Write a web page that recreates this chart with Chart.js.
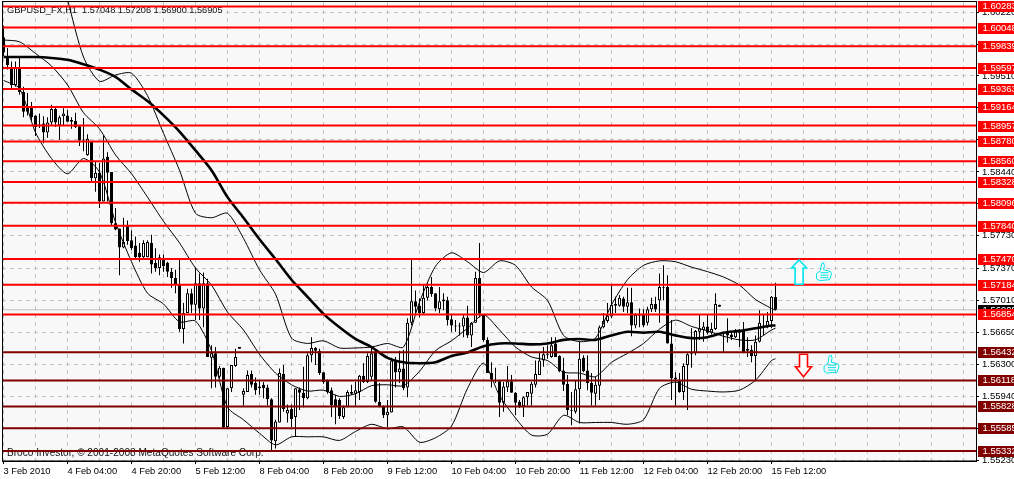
<!DOCTYPE html>
<html>
<head>
<meta charset="utf-8">
<title>GBPUSD H1</title>
<script src="https://cdn.jsdelivr.net/npm/chart.js@4/dist/chart.umd.min.js"></script>
<style>
html, body { margin: 0; padding: 0; background: #fff; overflow: hidden; }
canvas { display: block; }
</style>
</head>
<body>
<canvas id="gbpChart" width="1014" height="479"></canvas>
<script>
const opens = [1.5994,1.5972,1.5960,1.5941,1.5960,1.5933,1.5916,1.5916,1.5907,1.5897,1.5898,1.5888,1.5899,1.5914,1.5896,1.5906,1.5907,1.5902,1.5901,1.5895,1.5880,1.5863,1.5878,1.5837,1.5843,1.5811,1.5861,1.5844,1.5787,1.5781,1.5760,1.5785,1.5768,1.5762,1.5754,1.5749,1.5749,1.5765,1.5743,1.5737,1.5746,1.5743,1.5733,1.5726,1.5718,1.5669,1.5687,1.5709,1.5696,1.5720,1.5692,1.5720,1.5637,1.5642,1.5616,1.5626,1.5560,1.5603,1.5628,1.5647,1.5596,1.5599,1.5619,1.5609,1.5605,1.5607,1.5604,1.5591,1.5544,1.5565,1.5619,1.5575,1.5580,1.5571,1.5602,1.5598,1.5592,1.5640,1.5648,1.5645,1.5621,1.5612,1.5601,1.5591,1.5590,1.5571,1.5582,1.5599,1.5597,1.5599,1.5617,1.5610,1.5616,1.5643,1.5588,1.5583,1.5573,1.5576,1.5634,1.5621,1.5625,1.5604,1.5676,1.5700,1.5695,1.5687,1.5704,1.5716,1.5709,1.5691,1.5700,1.5701,1.5680,1.5673,1.5672,1.5672,1.5682,1.5662,1.5676,1.5726,1.5685,1.5657,1.5620,1.5611,1.5611,1.5587,1.5604,1.5611,1.5598,1.5588,1.5583,1.5593,1.5597,1.5607,1.5618,1.5634,1.5640,1.5638,1.5653,1.5639,1.5623,1.5608,1.5579,1.5577,1.5602,1.5637,1.5623,1.5609,1.5597,1.5606,1.5671,1.5678,1.5683,1.5697,1.5695,1.5703,1.5694,1.5699,1.5673,1.5684,1.5686,1.5676,1.5691,1.5697,1.5701,1.5715,1.5716,1.5653,1.5613,1.5612,1.5599,1.5629,1.5641,1.5642,1.5666,1.5668,1.5672,1.5665,1.5669,1.5694,1.5666,1.5666,1.5663,1.5660,1.5665,1.5668,1.5647,1.5646,1.5639,1.5655,1.5673,1.5672,1.5678,1.57048];
const highs = [1.6007,1.5982,1.5967,1.5967,1.5971,1.5939,1.5932,1.5922,1.5907,1.5909,1.5906,1.5905,1.5919,1.5916,1.5907,1.5915,1.5913,1.5905,1.5910,1.5896,1.5904,1.5886,1.5878,1.5855,1.5854,1.5885,1.5866,1.5844,1.5804,1.5781,1.5793,1.5790,1.5779,1.5772,1.5765,1.5768,1.5768,1.5774,1.5759,1.5752,1.5752,1.5744,1.5737,1.5735,1.5747,1.5698,1.5714,1.5714,1.5737,1.5731,1.5732,1.5725,1.5651,1.5649,1.5628,1.5626,1.5603,1.5629,1.5647,1.5649,1.5603,1.5623,1.5623,1.5615,1.5612,1.5610,1.5607,1.5592,1.5568,1.5625,1.5629,1.5585,1.5585,1.5603,1.5604,1.5627,1.5642,1.5660,1.5649,1.5647,1.5621,1.5613,1.5604,1.5596,1.5592,1.5584,1.5601,1.5607,1.5610,1.5618,1.5631,1.5642,1.5648,1.5646,1.5609,1.5584,1.5590,1.5637,1.5638,1.5645,1.5646,1.5681,1.5746,1.5712,1.5703,1.5718,1.5720,1.5727,1.5709,1.5716,1.5709,1.5705,1.5686,1.5679,1.5676,1.5685,1.5695,1.5677,1.5733,1.5765,1.5685,1.5660,1.5632,1.5626,1.5612,1.5610,1.5628,1.5618,1.5599,1.5590,1.5594,1.5599,1.5610,1.5634,1.5643,1.5649,1.5651,1.5660,1.5660,1.5640,1.5637,1.5618,1.5599,1.5612,1.5655,1.5640,1.5640,1.5620,1.5616,1.5673,1.5687,1.5698,1.5718,1.5705,1.5707,1.5705,1.5715,1.5715,1.5687,1.5692,1.5691,1.5694,1.5704,1.5705,1.5731,1.5740,1.5729,1.5679,1.5621,1.5620,1.5631,1.5642,1.5670,1.5668,1.5685,1.5677,1.5685,1.5676,1.5709,1.5696,1.5666,1.5681,1.5666,1.5669,1.5669,1.5677,1.5660,1.5651,1.5662,1.5690,1.5685,1.5688,1.5706,1.57206];
const lows = [1.5973,1.5958,1.5937,1.5939,1.5930,1.5905,1.5907,1.5900,1.5884,1.5893,1.5876,1.5882,1.5896,1.5894,1.5880,1.5896,1.5900,1.5892,1.5893,1.5873,1.5867,1.5862,1.5833,1.5822,1.5804,1.5811,1.5811,1.5785,1.5779,1.5729,1.5759,1.5763,1.5757,1.5746,1.5744,1.5748,1.5749,1.5731,1.5733,1.5729,1.5733,1.5727,1.5715,1.5709,1.5666,1.5653,1.5687,1.5687,1.5679,1.5679,1.5671,1.5638,1.5603,1.5604,1.5614,1.5558,1.5559,1.5599,1.5627,1.5647,1.5584,1.5599,1.5604,1.5596,1.5596,1.5592,1.5584,1.5534,1.5536,1.5565,1.5577,1.5565,1.5560,1.5549,1.5579,1.5582,1.5591,1.5632,1.5629,1.5618,1.5608,1.5597,1.5571,1.5563,1.5569,1.5569,1.5582,1.5596,1.5584,1.5590,1.5609,1.5609,1.5612,1.5587,1.5582,1.5570,1.5560,1.5576,1.5604,1.5609,1.5601,1.5593,1.5673,1.5687,1.5682,1.5686,1.5701,1.5705,1.5689,1.5687,1.5690,1.5673,1.5666,1.5666,1.5662,1.5660,1.5659,1.5649,1.5676,1.5682,1.5655,1.5620,1.5604,1.5609,1.5571,1.5577,1.5599,1.5598,1.5573,1.5581,1.5571,1.5584,1.5584,1.5604,1.5618,1.5627,1.5636,1.5637,1.5638,1.5621,1.5600,1.5573,1.5562,1.5575,1.5564,1.5621,1.5601,1.5584,1.5584,1.5590,1.5670,1.5676,1.5681,1.5687,1.5694,1.5688,1.5687,1.5661,1.5670,1.5671,1.5671,1.5673,1.5688,1.5688,1.5676,1.5701,1.5653,1.5590,1.5584,1.5598,1.5590,1.5579,1.5626,1.5640,1.5657,1.5655,1.5663,1.5663,1.5668,1.5694,1.5643,1.5654,1.5657,1.5659,1.5649,1.5642,1.5638,1.5632,1.5611,1.5654,1.5662,1.5670,1.5670,1.56900];
const closes = [1.5977,1.5963,1.5941,1.5961,1.5933,1.5911,1.5911,1.5905,1.5894,1.5895,1.5888,1.5899,1.5914,1.5899,1.5905,1.5909,1.5900,1.5900,1.5894,1.5879,1.5879,1.5881,1.5837,1.5843,1.5811,1.5859,1.5843,1.5787,1.5780,1.5760,1.5766,1.5767,1.5759,1.5749,1.5749,1.5765,1.5766,1.5741,1.5737,1.5749,1.5739,1.5733,1.5726,1.5718,1.5669,1.5687,1.5709,1.5696,1.5720,1.5692,1.5720,1.5638,1.5642,1.5616,1.5626,1.5560,1.5603,1.5629,1.5638,1.5649,1.5600,1.5618,1.5607,1.5601,1.5603,1.5603,1.5591,1.5545,1.5566,1.5620,1.5580,1.5579,1.5569,1.5603,1.5598,1.5592,1.5640,1.5648,1.5645,1.5620,1.5610,1.5599,1.5584,1.5583,1.5572,1.5582,1.5599,1.5597,1.5601,1.5617,1.5610,1.5639,1.5642,1.5588,1.5583,1.5573,1.5577,1.5634,1.5621,1.5625,1.5603,1.5676,1.5700,1.5694,1.5687,1.5704,1.5716,1.5708,1.5692,1.5700,1.5702,1.5679,1.5673,1.5672,1.5673,1.5682,1.5662,1.5676,1.5726,1.5686,1.5657,1.5620,1.5613,1.5612,1.5587,1.5605,1.5611,1.5598,1.5587,1.5583,1.5593,1.5599,1.5608,1.5619,1.5634,1.5641,1.5641,1.5651,1.5638,1.5622,1.5607,1.5579,1.5578,1.5602,1.5636,1.5622,1.5609,1.5598,1.5607,1.5671,1.5678,1.5684,1.5696,1.5695,1.5704,1.5694,1.5699,1.5673,1.5685,1.5686,1.5673,1.5691,1.5697,1.5691,1.5716,1.5716,1.5653,1.5614,1.5615,1.5599,1.5628,1.5641,1.5642,1.5667,1.5670,1.5672,1.5665,1.5669,1.5697,1.5696,1.5665,1.5662,1.5660,1.5666,1.5667,1.5643,1.5645,1.5639,1.5655,1.5676,1.5671,1.5678,1.5705,1.56905];

// smoothed lines, read every 4th bar (last one is the final bar)
const lineBars = [0,4,8,12,16,20,24,28,32,36,40,44,48,52,56,60,64,68,72,76,80,84,88,92,96,100,104,108,112,116,120,124,128,132,136,140,144,148,152,156,160,164,168,172,176,180,184,188,192,193];
const maLine = [1.5972,1.5972,1.5972,1.5971,1.5969,1.5964,1.5958,1.5950,1.5936,1.5923,1.5907,1.5889,1.5868,1.5846,1.5816,1.5793,1.5769,1.5747,1.5724,1.5705,1.5686,1.5671,1.5658,1.5649,1.5637,1.5632,1.5631,1.5632,1.5639,1.5643,1.5650,1.5653,1.5653,1.5652,1.5653,1.5657,1.5658,1.5657,1.5662,1.5666,1.5665,1.5666,1.5662,1.5659,1.5660,1.5665,1.5667,1.5670,1.5673,1.5673];
const bandUpper = [null,null,null,null,1.6036,1.5972,1.5945,1.5952,1.5954,1.5929,1.5887,1.5846,1.5798,1.5793,1.5798,1.5770,1.5735,1.5708,1.5659,1.5653,1.5656,1.5648,1.5648,1.5649,1.5653,1.5649,1.5699,1.5739,1.5754,1.5744,1.5732,1.5745,1.5740,1.5716,1.5701,1.5662,1.5655,1.5659,1.5696,1.5724,1.5740,1.5745,1.5744,1.5738,1.5733,1.5727,1.5718,1.5702,1.5692,1.5690];
const bandMiddle = [1.5991,1.5989,1.5976,1.5962,1.5941,1.5910,1.5892,1.5863,1.5842,1.5816,1.5789,1.5765,1.5737,1.5718,1.5688,1.5668,1.5641,1.5620,1.5607,1.5600,1.5601,1.5594,1.5597,1.5606,1.5607,1.5606,1.5622,1.5645,1.5656,1.5670,1.5685,1.5668,1.5649,1.5638,1.5634,1.5621,1.5620,1.5616,1.5632,1.5642,1.5653,1.5669,1.5679,1.5672,1.5667,1.5661,1.5657,1.5657,1.5668,1.5670];
const bandLower = [1.5946,1.5937,1.5888,1.5859,1.5842,1.5859,1.5844,1.5788,1.5744,1.5709,1.5697,1.5677,1.5678,1.5645,1.5582,1.5568,1.5553,1.5540,1.5549,1.5549,1.5549,1.5545,1.5555,1.5563,1.5558,1.5560,1.5543,1.5548,1.5561,1.5603,1.5631,1.5595,1.5570,1.5551,1.5552,1.5573,1.5565,1.5565,1.5565,1.5563,1.5568,1.5603,1.5610,1.5602,1.5600,1.5599,1.5601,1.5612,1.5634,1.5636];

// horizontal levels, the right hand boxes show these
const upperLevels = [1.60283,1.60048,1.59839,1.59597,1.59363,1.59164,1.58957,1.58780,1.58560,1.58328,1.58096,1.57840,1.57470,1.57184,1.56854];
const lowerLevels = [1.56432,1.56118,1.55828,1.55585,1.55332];
const lastPrice = 1.56905;

const priceTicks = [1.60220,1.59865,1.59510,1.59155,1.58800,1.58440,1.58085,1.57730,1.57370,1.57010,1.56650,1.56300,1.55940,1.55585,1.55230];
const timeTickBars = [0,16,32,48,64,80,96,112,128,144,160,176,192];
const timeTicks = ['3 Feb 2010','4 Feb 04:00','4 Feb 20:00','5 Feb 12:00','8 Feb 04:00','8 Feb 20:00','9 Feb 12:00','10 Feb 04:00','10 Feb 20:00','11 Feb 12:00','12 Feb 04:00','12 Feb 20:00','15 Feb 12:00'];

const titleText = 'GBPUSD_FX,H1  1.57048 1.57206 1.56900 1.56905';
const footerText = 'Broco Investor, © 2001-2008 MetaQuotes Software Corp.';

const xMin = -0.375, xMax = 243.125;
const yMin = 1.55221, yMax = 1.60333;
const FONT = '"Liberation Sans", sans-serif';

const bars = opens.map((o, i) => i);

function levelDataset(price, color, width, order) {
  return {
    type: 'line', data: [{ x: xMin, y: price }, { x: xMax, y: price }],
    borderColor: color, borderWidth: width, pointRadius: 0, order: order
  };
}
function curveDataset(values, width) {
  return {
    type: 'line',
    data: lineBars.map((b, i) => ({ x: b, y: values[i] })).filter(p => p.y !== null),
    borderColor: '#000', borderWidth: width, pointRadius: 0, tension: 0.25, order: 2
  };
}

const datasets = [
  ...upperLevels.map(p => levelDataset(p, '#ff0000', 2, 0)),
  ...lowerLevels.map(p => levelDataset(p, '#800000', 2, 0)),
  levelDataset(lastPrice, '#c0c0c0', 1, 5),
  curveDataset(maLine, 2.6),
  curveDataset(bandUpper, 1),
  curveDataset(bandMiddle, 1),
  curveDataset(bandLower, 1),
  {
    type: 'bar', order: 3, grouped: false, barThickness: 3,
    data: bars.map(i => ({ x: i, y: [opens[i], closes[i]] })),
    backgroundColor: bars.map(i => closes[i] >= opens[i] ? '#ffffff' : '#000000'),
    borderColor: '#000', borderWidth: 1, borderSkipped: false, inflateAmount: 0
  },
  {
    type: 'bar', order: 4, grouped: false, barThickness: 1,
    data: bars.map(i => ({ x: i, y: [lows[i], highs[i]] })),
    backgroundColor: '#000', borderWidth: 0, inflateAmount: 0
  }
];

function drawBlockArrow(ctx, cx, top, bottom, neck, shaftW, headW, color) {
  // neck is the y where the arrow head meets the shaft
  const up = neck - top < bottom - neck;
  ctx.beginPath();
  if (up) {
    ctx.moveTo(cx, top);
    ctx.lineTo(cx + headW / 2, neck);
    ctx.lineTo(cx + shaftW / 2, neck);
    ctx.lineTo(cx + shaftW / 2, bottom);
    ctx.lineTo(cx - shaftW / 2, bottom);
    ctx.lineTo(cx - shaftW / 2, neck);
    ctx.lineTo(cx - headW / 2, neck);
  } else {
    ctx.moveTo(cx, bottom);
    ctx.lineTo(cx + headW / 2, neck);
    ctx.lineTo(cx + shaftW / 2, neck);
    ctx.lineTo(cx + shaftW / 2, top);
    ctx.lineTo(cx - shaftW / 2, top);
    ctx.lineTo(cx - shaftW / 2, neck);
    ctx.lineTo(cx - headW / 2, neck);
  }
  ctx.closePath();
  ctx.fillStyle = '#fff';
  ctx.fill();
  ctx.strokeStyle = color;
  ctx.lineWidth = 1.6;
  ctx.stroke();
}

function drawThumb(ctx, left, top) {
  ctx.save();
  ctx.translate(left, top);
  ctx.strokeStyle = '#00e5ee';
  ctx.lineWidth = 1;
  ctx.beginPath();
  // thumb and back of the hand
  ctx.moveTo(1, 11);
  ctx.lineTo(5, 8);
  ctx.lineTo(6, 1);
  ctx.lineTo(8, 0);
  ctx.lineTo(9, 3);
  ctx.lineTo(8, 7);
  ctx.lineTo(15, 9);
  ctx.lineTo(16, 11);
  ctx.lineTo(14, 17);
  ctx.lineTo(4, 18);
  ctx.lineTo(1, 16);
  ctx.closePath();
  ctx.stroke();
  // fingers
  ctx.beginPath();
  [10, 12.5, 15].forEach(y => { ctx.moveTo(5, y); ctx.lineTo(13, y); });
  ctx.stroke();
  ctx.restore();
}

const mt4Plugin = {
  id: 'mt4',
  beforeDraw(chart) {
    const { ctx, chartArea: a } = chart;
    ctx.save();
    ctx.fillStyle = '#f8f8f8';
    ctx.fillRect(a.left, a.top, a.right - a.left, a.bottom - a.top);
    ctx.restore();
  },
  beforeDatasetsDraw(chart) {
    const { ctx } = chart;
    ctx.save();
    ctx.fillStyle = '#111';
    ctx.textBaseline = 'middle';
    ctx.font = '9.2px ' + FONT;
    ctx.fillText(titleText, 7, 10.5);
    ctx.font = '10.1px ' + FONT;
    ctx.fillText(footerText, 7, 453.5);
    ctx.restore();
  },
  afterDraw(chart) {
    const { ctx, chartArea: a, scales } = chart;
    const y = scales.y, x = scales.x;
    ctx.save();
    ctx.strokeStyle = '#000';
    ctx.lineWidth = 1;
    ctx.strokeRect(a.left + 0.5, a.top - 0.5, a.right - a.left, a.bottom - a.top + 0.5);

    // last price box sits under the level boxes
    ctx.font = '9.5px ' + FONT;
    ctx.textBaseline = 'middle';
    const box = (price, color) => {
      const py = Math.round(y.getPixelForValue(price));
      ctx.fillStyle = color;
      ctx.fillRect(978, py - 5, 36, 11);
      ctx.fillStyle = '#fff';
      ctx.fillText(price.toFixed(5), 982.5, py + 0.5);
    };
    box(lastPrice, '#000');
    upperLevels.forEach(p => box(p, '#ff0000'));
    lowerLevels.forEach(p => box(p, '#800000'));

    // the trade arrows and thumbs
    drawBlockArrow(ctx, x.getPixelForValue(198.9), y.getPixelForValue(1.5746), y.getPixelForValue(1.5719), y.getPixelForValue(1.5737), 8, 15, '#00e5ee');
    drawBlockArrow(ctx, x.getPixelForValue(200), y.getPixelForValue(1.5641), y.getPixelForValue(1.5616), y.getPixelForValue(1.5627), 8, 16, '#ff0000');
    drawThumb(ctx, x.getPixelForValue(203), y.getPixelForValue(1.5743));
    drawThumb(ctx, x.getPixelForValue(204.9), y.getPixelForValue(1.5640));
    ctx.restore();
  }
};

Chart.defaults.font.family = FONT;
Chart.defaults.font.size = 9.3;
Chart.defaults.color = '#000';

const gbpChart = new Chart(document.getElementById('gbpChart').getContext('2d'), {
  data: { datasets: datasets },
  plugins: [mt4Plugin],
  options: {
    responsive: false,
    animation: false,
    layout: { padding: { left: 2, top: 2, right: 0, bottom: 0 } },
    plugins: { legend: { display: false }, tooltip: { enabled: false } },
    scales: {
      x: {
        type: 'linear',
        offset: false,
        min: xMin,
        max: xMax,
        afterBuildTicks(scale) {
          const t = [];
          for (let v = 0; v <= 240; v += 8) t.push({ value: v });
          scale.ticks = t;
        },
        afterFit(scale) { scale.height = 18; scale.paddingLeft = 0; scale.paddingRight = 0; },
        border: { dash: [4, 4], color: '#000' },
        grid: {
          offset: false,
          color: '#c4c4c4',
          tickLength: 3,
          tickColor: c => (c.tick && timeTickBars.includes(c.tick.value)) ? '#000' : 'rgba(0,0,0,0)'
        },
        ticks: {
          autoSkip: false,
          maxRotation: 0,
          align: 'start',
          padding: 2,
          callback: v => { const i = timeTickBars.indexOf(v); return i < 0 ? '' : timeTicks[i]; }
        }
      },
      y: {
        type: 'linear',
        position: 'right',
        min: yMin,
        max: yMax,
        afterBuildTicks(scale) { scale.ticks = priceTicks.map(v => ({ value: v })); },
        afterFit(scale) { scale.width = 38; scale.paddingTop = 0; scale.paddingBottom = 0; },
        border: { dash: [4, 4], color: '#000' },
        grid: { color: '#c4c4c4', tickLength: 3, tickColor: '#000' },
        ticks: {
          autoSkip: false,
          font: { size: 9.5 },
          padding: 3,
          callback: v => v.toFixed(5)
        }
      }
    }
  }
});
</script>
</body>
</html>
